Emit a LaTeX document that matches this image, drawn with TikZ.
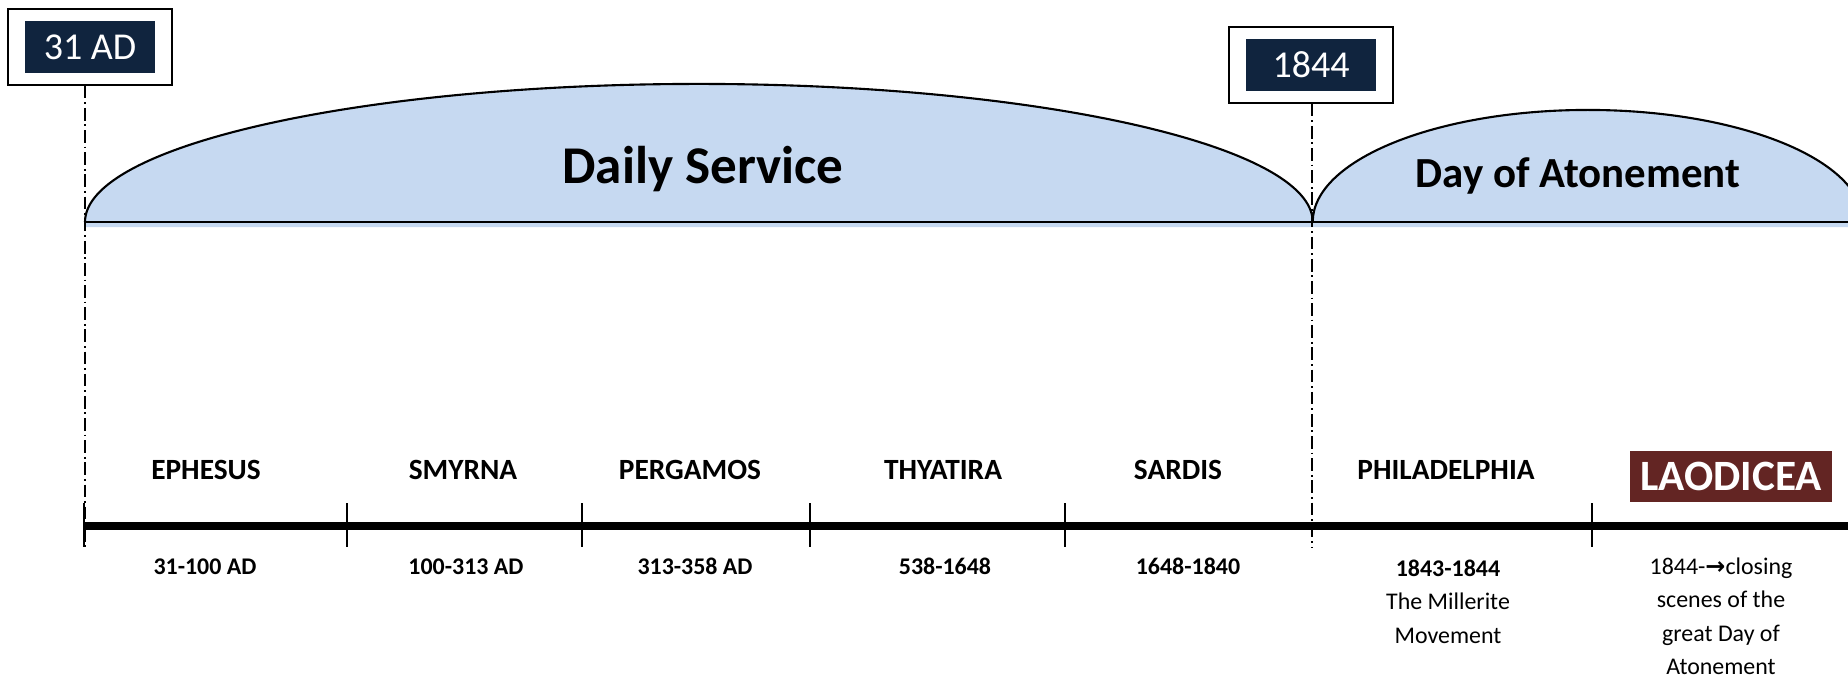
\documentclass[tikz,border=0pt]{standalone}
\usepackage{fontspec}
\setmainfont{Carlito}
\newfontfamily\arrowfont{DejaVu Sans}
\usetikzlibrary{positioning, fit, calc}

\definecolor{navy}{HTML}{10243E}
\definecolor{skyfill}{HTML}{C6D9F1}
\definecolor{wine}{HTML}{632523}

\tikzset{
  datebox/.style={fill=navy, text=white, minimum width=1.30cm, minimum height=0.52cm,
    inner sep=0pt, font=\fontsize{10.8}{12}\selectfont},
  dateframe/.style={draw, line width=0.6pt, inner xsep=0.16cm, inner ysep=0.11cm},
  era/.style={line width=0.5pt, dash pattern=on 3.6pt off 1.1pt on 0.5pt off 1.1pt},
  phase/.style={anchor=base, font=\bfseries\fontsize{15.1}{17}\selectfont},
  church/.style={anchor=base, font=\bfseries\fontsize{8.35}{10}\selectfont},
  period/.style={anchor=base, font=\bfseries\fontsize{6.8}{9.5}\selectfont},
  note/.style={anchor=north, align=center, inner sep=0pt, font=\fontsize{6.8}{9.5}\selectfont},
  tick/.style={line width=0.5pt},
}

\begin{document}
\begin{tikzpicture}[x=0.01cm, y=-0.01cm]
    \useasboundingbox (0,0) rectangle (1848,675);
    \clip (0,0) rectangle (1848,675);

    % Service arcs
    \fill[skyfill] (85,227) -- (85,222)
      arc[start angle=180, end angle=0, x radius=6.135cm, y radius=1.38cm] -- (1312,227) -- cycle;
    \fill[skyfill] (1312,227) -- (1312,222)
      arc[start angle=180, end angle=0, x radius=2.75cm, y radius=1.12cm] -- (1870,227) -- cycle;
    \draw[line width=0.6pt] (85,222)
      arc[start angle=180, end angle=0, x radius=6.135cm, y radius=1.38cm]
      arc[start angle=180, end angle=0, x radius=2.75cm, y radius=1.12cm];
    \draw[line width=0.6pt] (85,222) -- (1848,222);

    \node[phase] (daily) at (703,183) {Daily Service};
    \node[phase, font=\bfseries\fontsize{12.2}{14}\selectfont] (atone) at (1578,187) {Day of Atonement};

    % Date boxes
    \node[datebox] (ad31) at (90,47) {31 AD};
    \node[dateframe, fit=(ad31)] (ad31frame) {};
    \node[datebox] (y1844) at (1311,65) {1844};
    \node[dateframe, fit=(y1844)] (y1844frame) {};

    \coordinate (d0) at (85,547);
    \coordinate (d1) at (1312,547);
    \draw[era] (ad31frame.south -| d0) -- (d0);
    \draw[era] (y1844frame.south -| d1) -- (d1);

    % Timeline
    \draw[line width=2pt] (84,526) -- (1848,526);
    \foreach \x in {84,347,582,810,1065,1592}
      \draw[tick] (\x,503) -- (\x,547);

    % Labels above and below the line
    \foreach \name/\x in {EPHESUS/206, SMYRNA/463, PERGAMOS/690, THYATIRA/943, SARDIS/1178, PHILADELPHIA/1446}
      \node[church] (\name) at (\x,479) {\name};
    \foreach \yrs/\x [count=\i] in {31-100 AD/205, 100-313 AD/466, 313-358 AD/695, 538-1648/945, 1648-1840/1188}
      \node[period] (period\i) at (\x,574) {\yrs};

    \node[fill=wine, text=white, minimum width=2.02cm, minimum height=0.51cm, inner sep=0pt,
      font=\bfseries\fontsize{12.3}{14}\selectfont] (LAODICEA) at (1731,476.5) {LAODICEA};

    \node[note] (millerite) at (1448,559) {\textbf{1843-1844}\\The Millerite\\Movement};
    \node[note] (closing) at (1721,557) {1844-{\arrowfont\bfseries →}closing\\scenes of the\\great Day of\\Atonement};
\end{tikzpicture}
\end{document}
